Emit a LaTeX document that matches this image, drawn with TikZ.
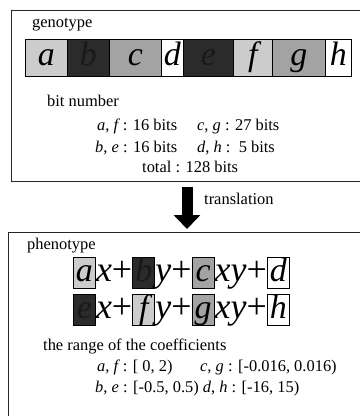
\documentclass[tikz,border=0pt]{standalone}
\usepackage{fontspec}
\setmainfont{Liberation Serif}
\usetikzlibrary{arrows.meta}
\definecolor{lgray}{gray}{0.80}
\definecolor{mgray}{gray}{0.64}
\definecolor{dgray}{gray}{0.17}
\definecolor{dtext}{gray}{0.10}
\begin{document}
\begin{tikzpicture}[x=1bp,y=-1bp,
  frame/.style={line width=0.8bp, draw=black!85},
  txt/.style={inner sep=0, anchor=base west, font=\fontsize{16.5}{19}\selectfont},
  seg/.style={draw, line width=0.8bp, inner sep=0, anchor=north west,
    minimum height=37bp, text height=24bp, text depth=8bp,
    font=\fontsize{34}{34}\selectfont\itshape},
  cbox/.style={draw, line width=0.8bp, inner sep=0, anchor=west,
    minimum width=22bp, minimum height=31bp, text height=24bp, text depth=7bp,
    font=\fontsize{34}{34}\selectfont\itshape},
  eqt/.style={inner sep=0, anchor=west, text height=24bp, text depth=7bp,
    font=\fontsize{36}{36}\selectfont}
]
\useasboundingbox (0,0) rectangle (360,416);

% genotype frame
\draw[frame] (360,10) -- (11,10) -- (11,181) -- (360,181);
\node[txt] (geno) at (32,27) {genotype};

% chromosome bar
\node[seg, fill=lgray, minimum width=42bp] (sa) at (25,39) {a};
\node[seg, fill=dgray, text=dtext, minimum width=42bp] (sb) at (67,39) {b};
\node[seg, fill=mgray, minimum width=52bp] (sc) at (109,39) {c};
\node[seg, fill=white, minimum width=22bp] (sd) at (161,39) {d};
\node[seg, fill=dgray, text=dtext, minimum width=50bp] (se) at (183,39) {e};
\node[seg, fill=lgray, minimum width=39bp] (sf) at (233,39) {f};
\node[seg, fill=mgray, minimum width=53bp] (sg) at (272,39) {g};
\node[seg, fill=white, minimum width=26bp] (sh) at (325,39) {h};

% bit numbers
\node[txt] (bitn) at (47,106) {bit number};
\node[txt] (bit1) at (97,130) {\textit{a}, \textit{f}\,: 16 bits};
\node[txt] (bit2) at (197,130) {\textit{c}, \textit{g} : 27 bits};
\node[txt] (bit3) at (95,152) {\textit{b}, \textit{e} : 16 bits};
\node[txt] (bit4) at (197,152) {\textit{d}, \textit{h} :\enspace 5 bits};
\node[txt] (tot) at (142,172) {total : 128 bits};

% translation arrow
\coordinate (arrtop) at (187,187);
\coordinate (arrtip) at (187,229);
\draw[line width=11bp, -{Triangle[width=26bp,length=14bp]}] (arrtop) -- (arrtip);
\node[txt, anchor=west] (transl) at (204,199) {translation};

% phenotype frame
\draw[frame] (360,232) -- (8,232) -- (8,416);
\node[txt] (pheno) at (27,249) {phenotype};

% row 1
\node[cbox, fill=lgray] (ea) at (73,273) {a};
\node[eqt] (t1) at (ea.east) {\textit{x}+};
\node[cbox, fill=dgray, text=dtext, anchor=west] (eb) at (t1.east) {b};
\node[eqt] (t2) at (eb.east) {\textit{y}+};
\node[cbox, fill=mgray, anchor=west] (ec) at (t2.east) {c};
\node[eqt] (t3) at (ec.east) {\textit{xy}+};
\node[cbox, fill=white, anchor=west] (ed) at (t3.east) {d};

% row 2
\node[cbox, fill=dgray, text=dtext] (ee) at (73,310) {e};
\node[eqt] (u1) at (ee.east) {\textit{x}+};
\node[cbox, fill=lgray, anchor=west] (ef) at (u1.east) {f};
\node[eqt] (u2) at (ef.east) {\textit{y}+};
\node[cbox, fill=mgray, anchor=west] (eg) at (u2.east) {g};
\node[eqt] (u3) at (eg.east) {\textit{xy}+};
\node[cbox, fill=white, anchor=west] (eh) at (u3.east) {h};

% ranges
\node[txt] (rng) at (43,350) {the range of the coefficients};
\node[txt] (r1) at (97,371) {\textit{a}, \textit{f}\,: [ 0, 2)};
\node[txt] (r2) at (200,371) {\textit{c}, \textit{g} : [-0.016, 0.016)};
\node[txt] (r3) at (95,392) {\textit{b}, \textit{e} : [-0.5, 0.5) \textit{d}, \textit{h} : [-16, 15)};
\end{tikzpicture}
\end{document}
